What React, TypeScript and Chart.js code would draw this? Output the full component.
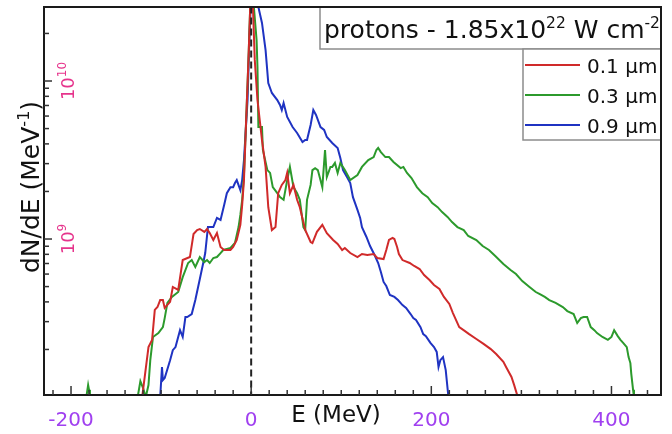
import React, { useEffect, useRef } from 'react';
import { Chart, registerables } from 'chart.js';

Chart.register(...registerables);

// ---------- axes ----------
const X_MIN = -230;
const X_MAX = 455;
const Y_MIN = 1.03e8;
const Y_MAX = 2.94e10;
const X_TICK_LABELS = [-200, 0, 200, 400];
const X_MINOR_STEP = 20;
const Y_TICK_LABELS = [1e9, 1e10];
const ZERO_LINE_E = 0;

const TITLE_MAIN = 'protons - 1.85x10';
const TITLE_EXP1 = '22';
const TITLE_MID = ' W cm';
const TITLE_EXP2 = '-2';
const X_TITLE = 'E (MeV)';
const Y_TITLE_MAIN = 'dN/dE (MeV';
const Y_TITLE_EXP = '-1';
const Y_TITLE_END = ')';

const LABELS = ['0.1 µm', '0.3 µm', '0.9 µm'];
const COLORS = ['#d02a2a', '#2c9a2c', '#1f33c2'];

// ---------- data (dN/dE in units of 1e9 MeV^-1) ----------
const E_01 = [-121, -114, -110, -107, -104, -101, -98, -96, -90, -87, -81, -76, -68, -64, -60, -57, -52, -49, -46, -42, -38, -34, -30, -27, -23, -20, -16, -12, -10, -8, -6, -3, 0, 2, 4, 7, 12, 16, 19, 23, 27, 30, 34, 38, 40, 43, 47, 51, 54, 60, 66, 68, 73, 79, 84, 91, 96, 101, 104, 110, 118, 123, 129, 136, 140, 147, 150, 153, 157, 159, 162, 164, 168, 176, 181, 187, 192, 198, 203, 209, 214, 220, 224, 231, 237, 242, 250, 258, 266, 272, 280, 283, 289, 292, 296];
const N_01 = [0.1, 0.207, 0.23, 0.356, 0.371, 0.411, 0.411, 0.366, 0.40, 0.497, 0.476, 0.736, 0.769, 1.075, 1.14, 1.157, 1.11, 1.157, 1.09, 0.986, 1.09, 0.89, 0.852, 0.852, 0.852, 0.89, 0.986, 1.23, 1.64, 2.36, 4.9, 13.6, 45, 29, 13.6, 7.58, 4.23, 2.86, 1.59, 1.14, 1.19, 1.95, 2.2, 2.36, 2.62, 1.95, 2.2, 1.77, 1.59, 1.14, 0.957, 0.943, 1.11, 1.23, 1.09, 0.986, 0.93, 0.852, 0.877, 0.815, 0.769, 0.804, 0.792, 0.804, 0.758, 0.747, 0.852, 0.986, 1.015, 1.0, 0.89, 0.804, 0.736, 0.705, 0.675, 0.646, 0.592, 0.55, 0.512, 0.483, 0.43, 0.388, 0.34, 0.277, 0.262, 0.25, 0.233, 0.217, 0.201, 0.187, 0.167, 0.155, 0.134, 0.119, 0.1];

const E_03 = [-183, -181, -180, -179, -150, -126, -123, -120, -117, -114, -112, -109, -103, -98, -96, -93, -88, -81, -76, -70, -66, -62, -57, -52, -49, -46, -42, -38, -34, -31, -27, -23, -18, -14, -12, -10, -8, -6, -3, 0, 3, 6, 7, 8, 12, 13, 18, 21, 24, 29, 32, 36, 40, 43, 47, 51, 54, 58, 60, 62, 66, 68, 71, 74, 79, 82, 84, 88, 90, 93, 96, 99, 104, 110, 118, 123, 130, 136, 139, 141, 144, 149, 153, 158, 166, 169, 173, 178, 184, 190, 196, 201, 207, 212, 218, 223, 229, 236, 241, 250, 257, 264, 271, 280, 288, 294, 301, 309, 316, 320, 326, 331, 338, 346, 351, 358, 362, 366, 369, 373, 377, 381, 384, 390, 396, 400, 403, 407, 410, 413, 417, 419, 421, 422, 424, 425];
const N_03 = [0.1, 0.119, 0.111, 0.1, null, 0.1, 0.126, 0.114, 0.1, 0.119, 0.171, 0.24, 0.254, 0.277, 0.316, 0.394, 0.43, 0.462, 0.574, 0.705, 0.736, 0.665, 0.769, 0.715, 0.736, 0.705, 0.758, 0.769, 0.815, 0.852, 0.864, 0.877, 0.943, 1.19, 1.42, 1.77, 2.54, 4.9, 13.6, 45, 29.4, 18.2, 12.3, 5.11, 5.11, 3.66, 2.73, 2.62, 2.13, 1.95, 1.84, 1.77, 2.36, 2.86, 2.13, 1.95, 1.77, 1.19, 1.14, 1.77, 2.2, 2.73, 2.81, 2.73, 2.13, 3.66, 2.47, 2.86, 2.86, 3.03, 2.62, 3.03, 2.73, 2.36, 2.54, 2.86, 3.16, 3.3, 3.66, 3.77, 3.55, 3.3, 3.3, 3.07, 2.81, 2.86, 2.62, 2.43, 2.13, 1.95, 1.84, 1.69, 1.59, 1.48, 1.38, 1.28, 1.19, 1.14, 1.045, 0.986, 0.903, 0.852, 0.781, 0.695, 0.637, 0.6, 0.542, 0.497, 0.462, 0.449, 0.43, 0.411, 0.394, 0.371, 0.35, 0.335, 0.294, 0.316, 0.321, 0.321, 0.277, 0.265, 0.254, 0.24, 0.23, 0.24, 0.265, 0.243, 0.23, 0.22, 0.207, 0.179, 0.164, 0.14, 0.111, 0.1];

const E_09 = [-101, -99, -98, -96, -90, -87, -84, -79, -76, -73, -71, -66, -62, -57, -53, -51, -48, -42, -38, -34, -30, -27, -23, -20, -18, -16, -12, -10, -8, -4, -2, -1, 0, 6, 8, 12, 16, 19, 23, 29, 32, 34, 36, 40, 46, 51, 57, 60, 62, 66, 69, 72, 77, 81, 84, 90, 96, 99, 102, 107, 110, 113, 118, 121, 123, 128, 132, 137, 141, 144, 147, 150, 154, 159, 163, 168, 172, 177, 180, 183, 188, 191, 194, 199, 203, 206, 208, 210, 213, 216, 219];
const N_09 = [0.1, 0.155, 0.128, 0.132, 0.171, 0.198, 0.207, 0.265, 0.24, 0.321, 0.321, 0.335, 0.411, 0.558, 0.715, 0.815, 1.19, 1.19, 1.36, 1.32, 1.64, 1.95, 2.13, 2.13, 2.26, 2.36, 2.04, 2.36, 3.16, 7.58, 18.2, 25.4, 45, 35, 29.4, 23.3, 15.7, 9.71, 8.4, 7.58, 7.05, 6.55, 7.26, 5.92, 5.11, 4.69, 4.11, 4.23, 4.23, 5.27, 6.55, 6.1, 5.11, 4.9, 4.42, 4.05, 3.77, 3.26, 2.73, 2.43, 2.26, 1.84, 1.53, 1.36, 1.19, 1.03, 0.903, 0.792, 0.705, 0.618, 0.535, 0.504, 0.442, 0.43, 0.411, 0.382, 0.366, 0.335, 0.316, 0.307, 0.277, 0.25, 0.243, 0.22, 0.207, 0.193, 0.155, 0.171, 0.179, 0.148, 0.1];

const UNIT = 1e9;
const FONT = '"DejaVu Sans", "Liberation Sans", sans-serif';
const PURPLE = '#a040f0';
const PINK = '#e6348c';

function toPoints(es: number[], ns: (number | null)[]) {
  return es.map((e, i) => ({ x: e, y: ns[i] === null ? null : (ns[i] as number) * UNIT }));
}

type Part = { t: string; sup?: boolean };

function partsWidth(ctx: CanvasRenderingContext2D, parts: Part[], size: number, supSize: number) {
  let w = 0;
  for (const p of parts) {
    ctx.font = `${p.sup ? supSize : size}px ${FONT}`;
    w += ctx.measureText(p.t).width;
  }
  return w;
}

function drawParts(ctx: CanvasRenderingContext2D, parts: Part[], x: number, y: number, size: number, supSize: number, raise: number) {
  let cx = x;
  ctx.textAlign = 'left';
  ctx.textBaseline = 'alphabetic';
  for (const p of parts) {
    ctx.font = `${p.sup ? supSize : size}px ${FONT}`;
    ctx.fillText(p.t, cx, p.sup ? y - raise : y);
    cx += ctx.measureText(p.t).width;
  }
}

const decorPlugin = {
  id: 'decor',
  afterDraw(chart: any) {
    const ctx: CanvasRenderingContext2D = chart.ctx;
    const area = chart.chartArea;
    const xs = chart.scales.x;
    const ys = chart.scales.y;
    ctx.save();

    // title box
    const tbx = 320, tby = area.top, tbw = area.right - 320, tbh = 42;
    ctx.fillStyle = '#ffffff';
    ctx.fillRect(tbx, tby, tbw, tbh);
    ctx.strokeStyle = '#8c8c8c';
    ctx.lineWidth = 1.5;
    ctx.strokeRect(tbx, tby, tbw, tbh);
    ctx.fillStyle = '#111';
    drawParts(ctx, [{ t: TITLE_MAIN }, { t: TITLE_EXP1, sup: true }, { t: TITLE_MID }, { t: TITLE_EXP2, sup: true }], 324, area.top + 31, 25, 15.5, 10);

    // legend box
    const lbx = 523, lby = tby + tbh, lbw = area.right - 523, lbh = 91;
    ctx.fillStyle = '#ffffff';
    ctx.fillRect(lbx, lby, lbw, lbh);
    ctx.strokeStyle = '#8c8c8c';
    ctx.lineWidth = 1.5;
    ctx.strokeRect(lbx, lby, lbw, lbh);
    const series = chart.data.datasets.filter((d: any) => d.isSeries);
    series.forEach((d: any, i: number) => {
      const ly = lby + 16 + i * 30;
      ctx.strokeStyle = d.borderColor;
      ctx.lineWidth = 2;
      ctx.beginPath();
      ctx.moveTo(lbx + 2, ly);
      ctx.lineTo(lbx + 57, ly);
      ctx.stroke();
      ctx.fillStyle = '#111';
      ctx.font = `20px ${FONT}`;
      ctx.textAlign = 'left';
      ctx.textBaseline = 'alphabetic';
      ctx.fillText(d.label, lbx + 64, ly + 8);
    });

    // frame
    ctx.strokeStyle = '#1a1a1a';
    ctx.lineWidth = 2;
    ctx.strokeRect(area.left, area.top, area.right - area.left, area.bottom - area.top);

    // inward ticks, bottom
    ctx.strokeStyle = '#333';
    ctx.lineWidth = 1.5;
    for (const t of xs.ticks) {
      const px = xs.getPixelForValue(t.value);
      const len = X_TICK_LABELS.includes(t.value) ? 9 : 5;
      ctx.beginPath();
      ctx.moveTo(px, area.bottom);
      ctx.lineTo(px, area.bottom - len);
      ctx.stroke();
    }
    // inward ticks, left
    for (const t of ys.ticks) {
      const py = ys.getPixelForValue(t.value);
      const len = Y_TICK_LABELS.includes(t.value) ? 8 : 5;
      ctx.beginPath();
      ctx.moveTo(area.left, py);
      ctx.lineTo(area.left + len, py);
      ctx.stroke();
    }

    // y tick labels (rotated, inside)
    ctx.fillStyle = PINK;
    for (const v of Y_TICK_LABELS) {
      const py = ys.getPixelForValue(v);
      const parts: Part[] = [{ t: '10' }, { t: String(Math.round(Math.log10(v))), sup: true }];
      ctx.save();
      ctx.translate(area.left + 30, py);
      ctx.rotate(-Math.PI / 2);
      const w = partsWidth(ctx, parts, 18, 12);
      drawParts(ctx, parts, -w / 2, 0, 18, 12, 8);
      ctx.restore();
    }

    // y title
    ctx.fillStyle = '#111';
    {
      const parts: Part[] = [{ t: Y_TITLE_MAIN }, { t: Y_TITLE_EXP, sup: true }, { t: Y_TITLE_END }];
      ctx.save();
      ctx.translate(39, area.top + 180);
      ctx.rotate(-Math.PI / 2);
      const w = partsWidth(ctx, parts, 25, 16);
      drawParts(ctx, parts, -w / 2, 0, 25, 16, 10);
      ctx.restore();
    }

    // x title
    ctx.fillStyle = '#111';
    ctx.font = `23px ${FONT}`;
    ctx.textAlign = 'center';
    ctx.textBaseline = 'alphabetic';
    ctx.fillText(X_TITLE, 336, area.bottom + 27);

    ctx.restore();
  },
};

export default function App() {
  const ref = useRef<HTMLCanvasElement | null>(null);

  useEffect(() => {
    if (!ref.current) return;
    const seriesE = [E_01, E_03, E_09];
    const seriesN = [N_01, N_03, N_09];
    const datasets: any[] = [
      {
        label: 'E = 0',
        data: [{ x: ZERO_LINE_E, y: Y_MIN * 0.5 }, { x: ZERO_LINE_E, y: Y_MAX * 2 }],
        borderColor: '#222',
        borderWidth: 2,
        borderDash: [7, 4],
        pointRadius: 0,
        isSeries: false,
      },
      ...LABELS.map((label, i) => ({
        label,
        data: toPoints(seriesE[i], seriesN[i]),
        borderColor: COLORS[i],
        backgroundColor: COLORS[i],
        borderWidth: 2,
        pointRadius: 0,
        tension: 0,
        spanGaps: false,
        isSeries: true,
      })),
    ];

    const chart = new Chart(ref.current, {
      type: 'line',
      data: { datasets },
      options: {
        animation: false,
        responsive: false,
        devicePixelRatio: 1,
        layout: { padding: { top: 7, right: 11, left: 0, bottom: 0 } },
        plugins: { legend: { display: false }, tooltip: { enabled: false } },
        scales: {
          x: {
            type: 'linear',
            min: X_MIN,
            max: X_MAX,
            grid: { display: false, drawTicks: false },
            border: { display: false },
            afterBuildTicks: (scale: any) => {
              const ticks = [];
              for (let v = -220; v <= 440; v += X_MINOR_STEP) ticks.push({ value: v });
              scale.ticks = ticks;
            },
            afterFit: (scale: any) => {
              scale.height = 39;
            },
            ticks: {
              autoSkip: false,
              maxRotation: 0,
              minRotation: 0,
              padding: 14,
              color: PURPLE,
              font: { family: FONT, size: 20 },
              callback: (v: any) => (X_TICK_LABELS.includes(Number(v)) ? String(v) : ''),
            },
          },
          y: {
            type: 'logarithmic',
            min: Y_MIN,
            max: Y_MAX,
            grid: { display: false, drawTicks: false },
            border: { display: false },
            afterBuildTicks: (scale: any) => {
              const ticks = [];
              for (const dec of [1e8, 1e9, 1e10]) {
                for (let m = 1; m <= 9; m++) {
                  const v = m * dec;
                  if (v > Y_MIN && v < Y_MAX) ticks.push({ value: v });
                }
              }
              scale.ticks = ticks;
            },
            afterFit: (scale: any) => {
              scale.width = 44;
            },
            ticks: { display: false },
          },
        },
      } as any,
      plugins: [decorPlugin],
    });
    return () => chart.destroy();
  }, []);

  return (
    <div style={{ position: 'absolute', left: 0, top: 0, width: 672, height: 434, background: '#fff' }}>
      <canvas ref={ref} width={672} height={434} />
    </div>
  );
}
